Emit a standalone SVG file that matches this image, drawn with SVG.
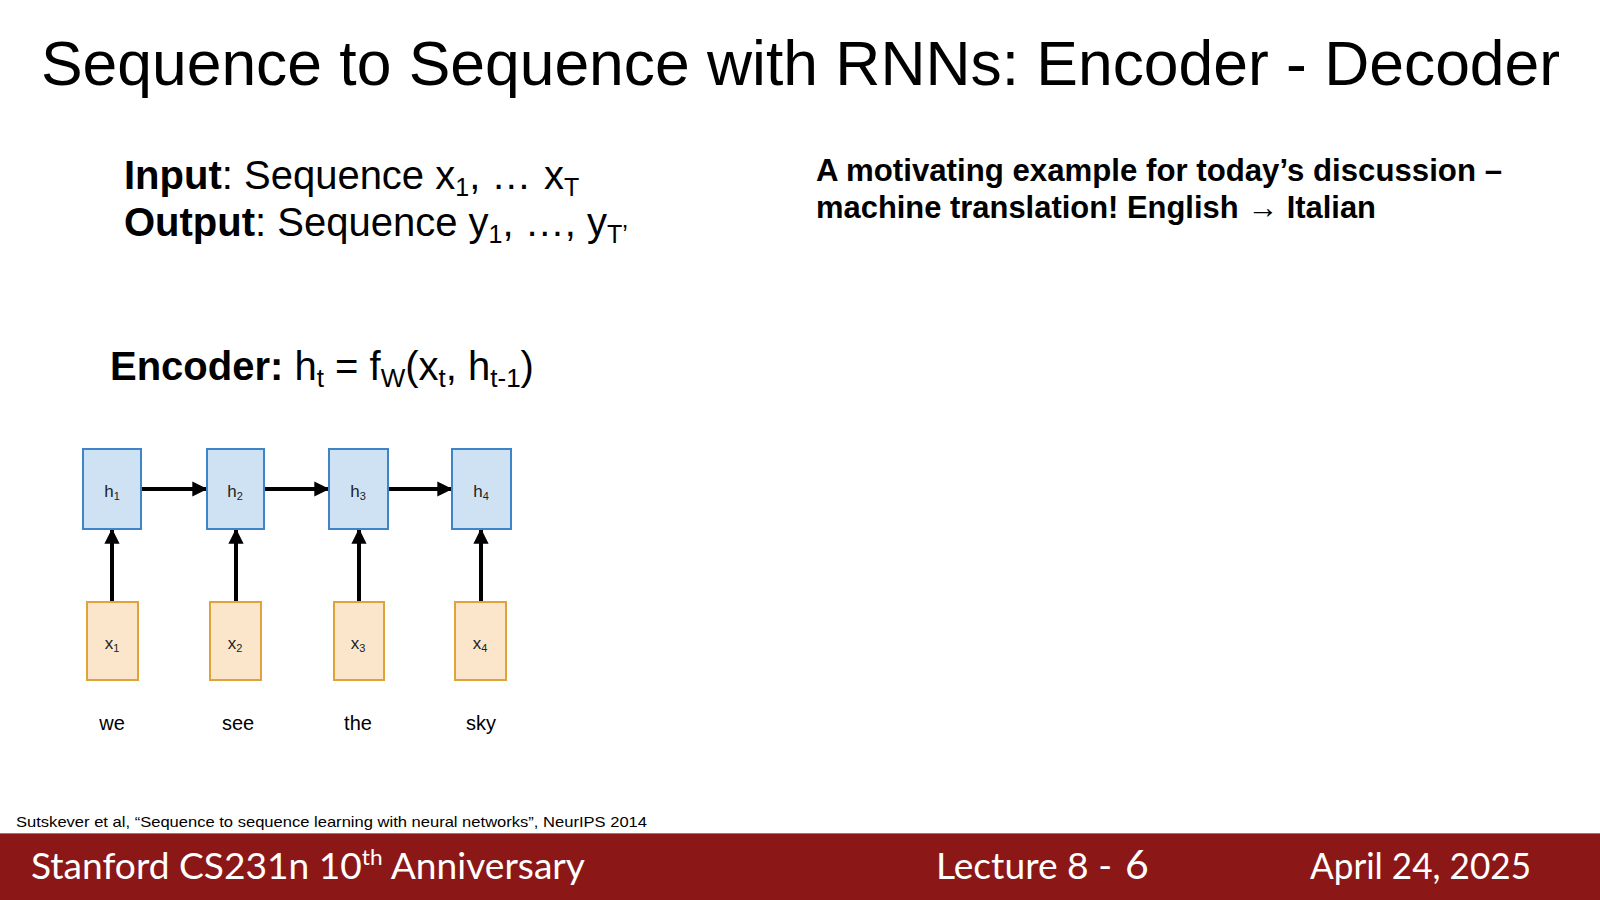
<svg xmlns="http://www.w3.org/2000/svg" width="1600" height="900" viewBox="0 0 1600 900">
<defs>
<marker id="ah" viewBox="0 0 10 10" refX="9" refY="5" markerWidth="3.8" markerHeight="3.8" markerUnits="strokeWidth" orient="auto"><path d="M0,0 L10,5 L0,10 z" fill="#000"/></marker>
</defs>
<style>
.sans{font-family:"Liberation Sans",Arial,sans-serif;fill:#000}
.hbox{fill:#cfe2f3;stroke:#3d85c6;stroke-width:2}
.xbox{fill:#fbe6cb;stroke:#dea43a;stroke-width:2}
.lbl{font-family:"Liberation Sans",Arial,sans-serif;font-size:17px;fill:#222;text-anchor:middle}
.word{font-family:"Liberation Sans",Arial,sans-serif;font-size:20px;fill:#000;text-anchor:middle}
.conn{stroke:#000;stroke-width:4;fill:none;marker-end:url(#ah)}
.foot{font-family:Lato,"Open Sans",sans-serif;fill:#fff}
</style>
<rect width="1600" height="900" fill="#fff"/>
<text id="title" class="sans" x="41" y="85" font-size="62.4">Sequence to Sequence with RNNs: Encoder - Decoder</text>

<text id="input" class="sans" x="124" y="189" font-size="40"><tspan font-weight="bold">Input</tspan>: Sequence x<tspan font-size="25" dy="7">1</tspan><tspan dy="-7">, …</tspan><tspan x="544">x</tspan><tspan font-size="25" dy="7">T</tspan></text>
<text id="output" class="sans" x="124" y="236" font-size="40"><tspan font-weight="bold">Output</tspan>: Sequence y<tspan font-size="25" dy="7">1</tspan><tspan dy="-7">, …, y</tspan><tspan font-size="25" dy="7">T’</tspan></text>

<g id="motivation" class="sans" font-size="32" font-weight="bold">
<text x="816" y="181" textLength="686" lengthAdjust="spacingAndGlyphs">A motivating example for today’s discussion –</text>
<text x="816" y="218" textLength="560" lengthAdjust="spacingAndGlyphs">machine translation! English → Italian</text>
</g>

<text id="encoder" class="sans" x="110" y="380" font-size="40"><tspan font-weight="bold">Encoder:</tspan> h<tspan font-size="26" dy="7">t</tspan><tspan dy="-7"> = f</tspan><tspan font-size="26" dy="7">W</tspan><tspan dy="-7">(x</tspan><tspan font-size="26" dy="7">t</tspan><tspan dy="-7">, h</tspan><tspan font-size="26" dy="7">t-1</tspan><tspan dy="-7">)</tspan></text>

<g id="connectors">
<line class="conn" x1="141" y1="489" x2="206" y2="489"/>
<line class="conn" x1="264" y1="489" x2="328" y2="489"/>
<line class="conn" x1="388" y1="489" x2="451" y2="489"/>
<line class="conn" x1="112" y1="602" x2="112" y2="530"/>
<line class="conn" x1="236" y1="602" x2="236" y2="530"/>
<line class="conn" x1="359" y1="602" x2="359" y2="530"/>
<line class="conn" x1="481" y1="602" x2="481" y2="530"/>
</g>

<g id="h1"><rect class="hbox" x="83" y="449" width="58" height="80"/><text class="lbl" x="112" y="497">h<tspan font-size="11" dy="3">1</tspan></text></g>
<g id="h2"><rect class="hbox" x="207" y="449" width="57" height="80"/><text class="lbl" x="235" y="497">h<tspan font-size="11" dy="3">2</tspan></text></g>
<g id="h3"><rect class="hbox" x="329" y="449" width="59" height="80"/><text class="lbl" x="358" y="497">h<tspan font-size="11" dy="3">3</tspan></text></g>
<g id="h4"><rect class="hbox" x="452" y="449" width="59" height="80"/><text class="lbl" x="481" y="497">h<tspan font-size="11" dy="3">4</tspan></text></g>

<g id="x1"><rect class="xbox" x="87" y="602" width="51" height="78"/><text class="lbl" x="112" y="649">x<tspan font-size="11" dy="3">1</tspan></text><text class="word" x="112" y="730">we</text></g>
<g id="x2"><rect class="xbox" x="210" y="602" width="51" height="78"/><text class="lbl" x="235" y="649">x<tspan font-size="11" dy="3">2</tspan></text><text class="word" x="238" y="730">see</text></g>
<g id="x3"><rect class="xbox" x="334" y="602" width="50" height="78"/><text class="lbl" x="358" y="649">x<tspan font-size="11" dy="3">3</tspan></text><text class="word" x="358" y="730">the</text></g>
<g id="x4"><rect class="xbox" x="455" y="602" width="51" height="78"/><text class="lbl" x="480" y="649">x<tspan font-size="11" dy="3">4</tspan></text><text class="word" x="481" y="730">sky</text></g>

<text id="citation" class="sans" x="16" y="827" font-size="14.5" textLength="631" lengthAdjust="spacingAndGlyphs">Sutskever et al, “Sequence to sequence learning with neural networks”, NeurIPS 2014</text>

<g id="footer">
<rect x="0" y="833" width="1600" height="67" fill="#8c1717"/>
<line x1="0" y1="833.5" x2="1600" y2="833.5" stroke="#b07070" stroke-width="1"/>
<text class="foot" x="31" y="856" dy="23" font-size="36" textLength="554" lengthAdjust="spacingAndGlyphs">Stanford CS231n 10<tspan font-size="22" dy="-14">th</tspan><tspan dy="14"> Anniversary</tspan></text>
<text class="foot" x="936" y="879" font-size="36" textLength="176" lengthAdjust="spacingAndGlyphs">Lecture 8 -</text>
<text class="foot" x="1125" y="879" font-size="41" font-family="'Liberation Sans',sans-serif">6</text>
<text class="foot" x="1310" y="879" font-size="36" textLength="221" lengthAdjust="spacingAndGlyphs">April 24, 2025</text>
</g>
</svg>
